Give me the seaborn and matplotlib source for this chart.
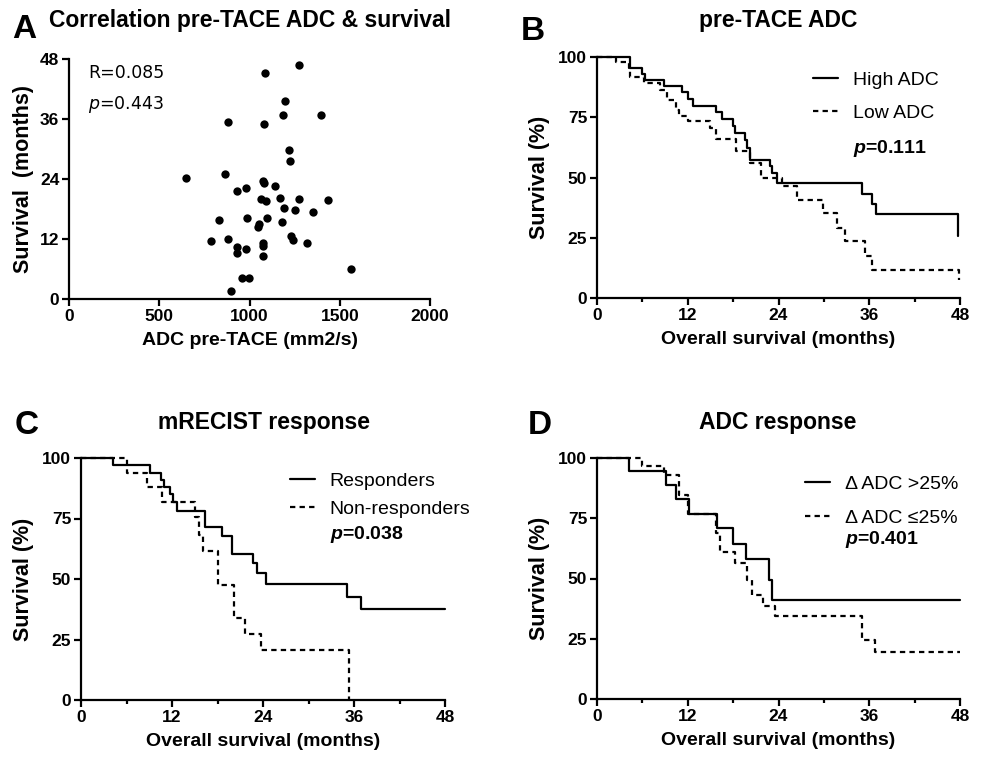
import numpy as np
import pandas as pd
import matplotlib
matplotlib.use('Agg')
import matplotlib.pyplot as plt
import seaborn as sns
from matplotlib.ticker import MultipleLocator

# Panel A - pre-TACE ADC vs survival
adc_pre = [1274, 1085, 1198, 1185, 1395, 883, 1078, 1219, 1226, 648, 867, 1076,
           1078, 1141, 980, 928, 1170, 1065, 1089, 1272, 1437, 1189, 1252, 1350,
           832, 985, 1098, 1180, 1054, 1048, 789, 883, 1232, 1239, 1320, 933,
           980, 1074, 1074, 933, 1076, 1563, 957, 996, 896]
surv_months = [46.8, 45.3, 39.7, 36.9, 36.9, 35.4, 35.1, 29.8, 27.7, 24.3, 25.1, 23.7,
               23.2, 22.7, 22.2, 21.7, 20.3, 20.1, 19.7, 20.1, 19.9, 18.2, 17.9, 17.5,
               15.8, 16.3, 16.3, 15.5, 15.1, 14.5, 11.7, 12.1, 12.7, 11.9, 11.2, 10.4,
               10.0, 11.2, 10.7, 9.2, 8.7, 6.0, 4.3, 4.3, 1.6]

# Panel B - pre-TACE ADC Kaplan-Meier
high_t = [0, 4.3, 6.0, 6.3, 8.8, 11.2, 12.0, 12.7, 15.7, 16.5, 18.0, 18.2, 19.6, 19.9,
          20.2, 22.9, 23.2, 23.8, 35.1, 36.4, 36.9, 47.7]
high_s = [100, 95.4, 92.9, 90.6, 87.8, 85.3, 82.6, 79.8, 77.2, 74.4, 71.5, 68.5, 65.7, 62.2,
          57.4, 54.6, 51.9, 47.7, 43.3, 39.1, 35.0, 25.6]
low_t = [0, 2.5, 4.2, 4.4, 6.2, 8.3, 9.2, 10.4, 10.85, 12.0, 14.9, 15.8, 18.4, 20.2, 21.7,
         24.4, 26.4, 29.9, 31.7, 32.8, 35.4, 36.4, 47.9]
low_s = [100, 97.8, 95.4, 91.6, 89.2, 86.4, 82.3, 78.1, 75.7, 73.6, 70.5, 66.0, 60.9, 56.0, 49.8,
         46.3, 40.8, 35.3, 29.0, 23.5, 17.3, 11.8, 7.6]

# Panel C - mRECIST response
resp_t = [0, 4.2, 9.1, 10.5, 11.0, 11.7, 12.1, 12.6, 16.3, 18.6, 19.9, 22.7, 23.2, 24.4, 35.1, 36.9, 48.0]
resp_s = [100, 97.0, 93.9, 90.8, 88.0, 85.0, 81.8, 78.1, 71.5, 67.8, 60.5, 56.7, 52.5, 48.1, 42.6, 37.4, 37.4]
nonresp_t = [0, 6.0, 8.7, 10.7, 15.0, 15.5, 16.1, 18.1, 20.2, 21.6, 23.7, 35.3]
nonresp_s = [100, 93.9, 88.0, 81.8, 75.7, 68.1, 61.5, 47.7, 34.0, 27.2, 20.6, 0]

# Panel D - ADC response
dadc_hi_t = [0, 4.2, 9.1, 10.4, 12.1, 15.9, 18.0, 19.7, 22.8, 23.2, 48.0]
dadc_hi_s = [100, 94.5, 88.7, 83.1, 76.9, 70.8, 64.5, 58.0, 49.5, 41.2, 41.2]
dadc_lo_t = [0, 5.9, 8.8, 10.85, 12.0, 15.7, 16.3, 18.2, 19.8, 20.5, 21.9, 23.6, 35.0, 36.7, 48.0]
dadc_lo_s = [100, 96.5, 93.1, 84.8, 76.9, 68.9, 60.9, 56.4, 49.5, 43.3, 38.5, 34.3, 24.6, 19.4, 19.4]

sns.set_theme(style='ticks')
plt.rcParams['font.family'] = ['Liberation Sans', 'DejaVu Sans']
plt.rcParams['mathtext.fontset'] = 'custom'
plt.rcParams['mathtext.it'] = 'DejaVu Sans:italic'
plt.rcParams['mathtext.bfit'] = 'Liberation Sans:bold:italic'
for key in ['text.color', 'axes.labelcolor', 'xtick.color', 'ytick.color', 'axes.edgecolor']:
    plt.rcParams[key] = 'black'

W, H = 983, 763
fig = plt.figure(figsize=(W / 100, H / 100), dpi=100)


def px_axes(left, top, right, bottom):
    return fig.add_axes([left / W, 1 - bottom / H, (right - left) / W, (bottom - top) / H])


def fig_text(x, y, s, size):
    fig.text(x / W, 1 - y / H, s, ha='center', va='center', fontsize=size, fontweight='bold')


def style_axes(ax, xticks, yticks, xlabel, ylabel, ylabelpad):
    sns.despine(ax=ax)
    for side in ['left', 'bottom']:
        ax.spines[side].set_linewidth(1.6)
    ax.set_xticks(xticks, [str(v) for v in xticks], fontweight='bold')
    ax.set_yticks(yticks, [str(v) for v in yticks], fontweight='bold')
    ax.tick_params(which='major', length=5, width=1.6, labelsize=12.5, pad=2)
    ax.tick_params(which='minor', length=3, width=1.6)
    ax.set_xlabel(xlabel, fontsize=14, fontweight='bold', labelpad=6)
    ax.set_ylabel(ylabel, fontsize=15.5, fontweight='bold', labelpad=ylabelpad)


def plot_km(ax, t1, s1, t2, s2, labels, p_label, leg_xy, p_xy, labelspacing):
    sns.lineplot(x=t1, y=s1, ax=ax, drawstyle='steps-post', color='black', lw=1.6,
                 label=labels[0], estimator=None, sort=False, clip_on=False)
    sns.lineplot(x=t2, y=s2, ax=ax, drawstyle='steps-post', color='black', lw=1.6,
                 linestyle=(0, (2.4, 1.9)), label=labels[1], estimator=None, sort=False, clip_on=False)
    ax.set_xlim(0, 48)
    ax.set_ylim(0, 100)
    style_axes(ax, [0, 12, 24, 36, 48], [0, 25, 50, 75, 100],
               'Overall survival (months)', 'Survival (%)', 6)
    ax.xaxis.set_minor_locator(MultipleLocator(6))
    ax.legend(loc='upper left', bbox_to_anchor=leg_xy, frameon=False, fontsize=14,
              handlelength=1.3, handletextpad=0.75, labelspacing=labelspacing,
              borderpad=0, borderaxespad=0)
    ax.text(p_xy[0], p_xy[1], r'$\mathbfit{p}$=' + p_label, transform=ax.transAxes,
            fontsize=14, fontweight='bold', va='center', ha='left')


# A
axA = px_axes(69, 59, 430, 299)
sns.scatterplot(x=adc_pre, y=surv_months, ax=axA, s=36, color='black', linewidth=0, clip_on=False)
axA.set_xlim(0, 2000)
axA.set_ylim(0, 48)
style_axes(axA, [0, 500, 1000, 1500, 2000], [0, 12, 24, 36, 48],
           'ADC pre-TACE (mm2/s)', 'Survival  (months)', 4)
axA.text(0.053, 0.94, 'R=0.085', transform=axA.transAxes, fontsize=12.5,
         family='DejaVu Sans', va='center')
axA.text(0.053, 0.81, r'$\mathit{p}$=0.443', transform=axA.transAxes, fontsize=12.5,
         family='DejaVu Sans', va='center')

# B
axB = px_axes(597, 57, 960, 298)
plot_km(axB, high_t, high_s, low_t, low_s, ['High ADC', 'Low ADC'], '0.111',
        (0.595, 0.941), (0.705, 0.622), 0.81)

# C
axC = px_axes(81, 458, 445, 700)
plot_km(axC, resp_t, resp_s, nonresp_t, nonresp_s, ['Responders', 'Non-responders'], '0.038',
        (0.574, 0.942), (0.684, 0.682), 0.55)

# D
axD = px_axes(597, 458, 960, 699)
plot_km(axD, dadc_hi_t, dadc_hi_s, dadc_lo_t, dadc_lo_s, ['\u0394 ADC >25%', '\u0394 ADC \u226425%'],
        '0.401', (0.573, 0.929), (0.683, 0.66), 0.86)

fig_text(250, 21, 'Correlation pre-TACE ADC & survival', 16.5)
fig_text(778, 21, 'pre-TACE ADC', 16.5)
fig_text(264, 422, 'mRECIST response', 16.5)
fig_text(778, 422, 'ADC response', 16.5)
fig_text(24, 30, 'A', 24)
fig_text(533, 31, 'B', 24)
fig_text(27, 426, 'C', 24)
fig_text(540, 426, 'D', 24)

plt.savefig('out.png', dpi=100)
